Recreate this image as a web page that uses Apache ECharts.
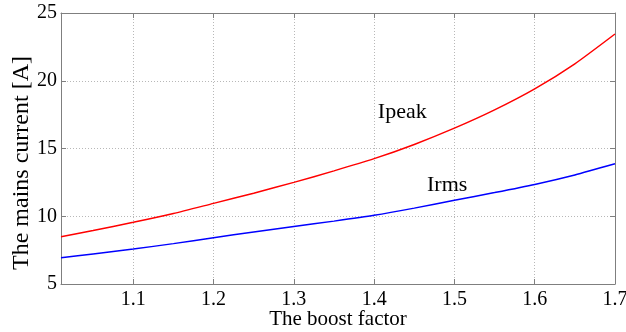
<!DOCTYPE html>
<html>
<head>
<meta charset="utf-8">
<script src="https://cdn.jsdelivr.net/npm/echarts@6/dist/echarts.min.js"></script>
<style>
html,body{margin:0;padding:0;background:#fff;}
#chart{width:626px;height:332px;}
</style>
</head>
<body>
<div id="chart"></div>
<script>
var boostFactor = [1.01, 1.05, 1.1, 1.15, 1.2, 1.25, 1.3, 1.35, 1.4, 1.45, 1.5, 1.55, 1.6, 1.65, 1.7];
var ipeak = [8.49, 8.95, 9.55, 10.2, 10.95, 11.7, 12.5, 13.35, 14.25, 15.3, 16.5, 17.85, 19.4, 21.25, 23.45];
var irms = [6.93, 7.22, 7.58, 7.98, 8.42, 8.83, 9.24, 9.64, 10.07, 10.6, 11.18, 11.75, 12.35, 13.05, 13.87];
var xLabels = [1.1, 1.2, 1.3, 1.4, 1.5, 1.6, 1.7];
var yLabels = [5, 10, 15, 20, 25];
var ipeakLabelAt = [1.435, 17.7];
var irmsLabelAt = [1.491, 12.3];

function pairs(xs, ys) { return xs.map(function (x, i) { return [x, ys[i]]; }); }

var FONT = 'Liberation Serif';
var AXIS_COLOR = '#7f7f7f';
var chart = echarts.init(document.getElementById('chart'), null, {renderer: 'canvas'});

function annot(name, at) {
  return {
    symbol: 'circle', symbolSize: 0,
    data: [{coord: at, value: name}],
    label: {show: true, position: 'inside', formatter: name,
      fontFamily: FONT, fontSize: 22, color: '#000'}
  };
}

chart.setOption({
  animation: false,
  backgroundColor: '#fff',
  grid: {left: 61, right: 11, top: 13, bottom: 48, containLabel: false, outerBoundsMode: 'none'},
  xAxis: [{
    type: 'value', min: 1.01, max: 1.7, splitNumber: 7, position: 'bottom',
    name: 'The boost factor', nameLocation: 'middle', nameGap: 25, nameMoveOverlap: false,
    nameTextStyle: {fontFamily: FONT, fontSize: 21, color: '#000'},
    axisLine: {show: true, lineStyle: {color: AXIS_COLOR, width: 1}},
    axisTick: {show: true, inside: true, length: 5, lineStyle: {color: AXIS_COLOR}},
    axisLabel: {show: true, margin: 6, fontFamily: FONT, fontSize: 20, color: '#000',
      showMinLabel: false,
      formatter: function (v) { var r = Math.round(v * 10) / 10; return xLabels.indexOf(r) >= 0 ? r.toFixed(1) : ''; }},
    splitLine: {show: true, lineStyle: {color: '#b8b8b8', type: [1, 2], width: 1}}
  }, {
    type: 'value', min: 1.01, max: 1.7, splitNumber: 7, position: 'top',
    axisLine: {show: true, lineStyle: {color: AXIS_COLOR, width: 1}},
    axisTick: {show: true, inside: true, length: 5, lineStyle: {color: AXIS_COLOR}},
    axisLabel: {show: false}, splitLine: {show: false}
  }],
  yAxis: [{
    type: 'value', min: 5, max: 25, interval: 5, position: 'left',
    axisLine: {show: true, lineStyle: {color: AXIS_COLOR, width: 1}},
    axisTick: {show: true, inside: true, length: 5, lineStyle: {color: AXIS_COLOR}},
    axisLabel: {show: true, margin: 4, fontFamily: FONT, fontSize: 20, color: '#000',
      formatter: function (v) { return yLabels.indexOf(v) >= 0 ? String(v) : ''; }},
    splitLine: {show: true, lineStyle: {color: '#b8b8b8', type: [1, 2], width: 1}}
  }, {
    type: 'value', min: 5, max: 25, interval: 5, position: 'right',
    axisLine: {show: true, lineStyle: {color: AXIS_COLOR, width: 1}},
    axisTick: {show: true, inside: true, length: 5, lineStyle: {color: AXIS_COLOR}},
    axisLabel: {show: false}, splitLine: {show: false}
  }],
  graphic: [{
    type: 'text',
    x: 22, y: 163,
    rotation: Math.PI / 2,
    style: {text: 'The mains current [A]', fontFamily: FONT, fontSize: 24, fill: '#000',
      textAlign: 'center', textVerticalAlign: 'middle'}
  }],
  series: [{
    name: 'Ipeak', type: 'line', xAxisIndex: 0, yAxisIndex: 0,
    data: pairs(boostFactor, ipeak), showSymbol: false, smooth: 0.2,
    lineStyle: {color: '#ff0000', width: 1.5}, itemStyle: {color: '#ff0000'},
    markPoint: annot('Ipeak', ipeakLabelAt)
  }, {
    name: 'Irms', type: 'line', xAxisIndex: 0, yAxisIndex: 0,
    data: pairs(boostFactor, irms), showSymbol: false, smooth: 0.2,
    lineStyle: {color: '#0000ff', width: 1.5}, itemStyle: {color: '#0000ff'},
    markPoint: annot('Irms', irmsLabelAt)
  }]
});
</script>
</body>
</html>
